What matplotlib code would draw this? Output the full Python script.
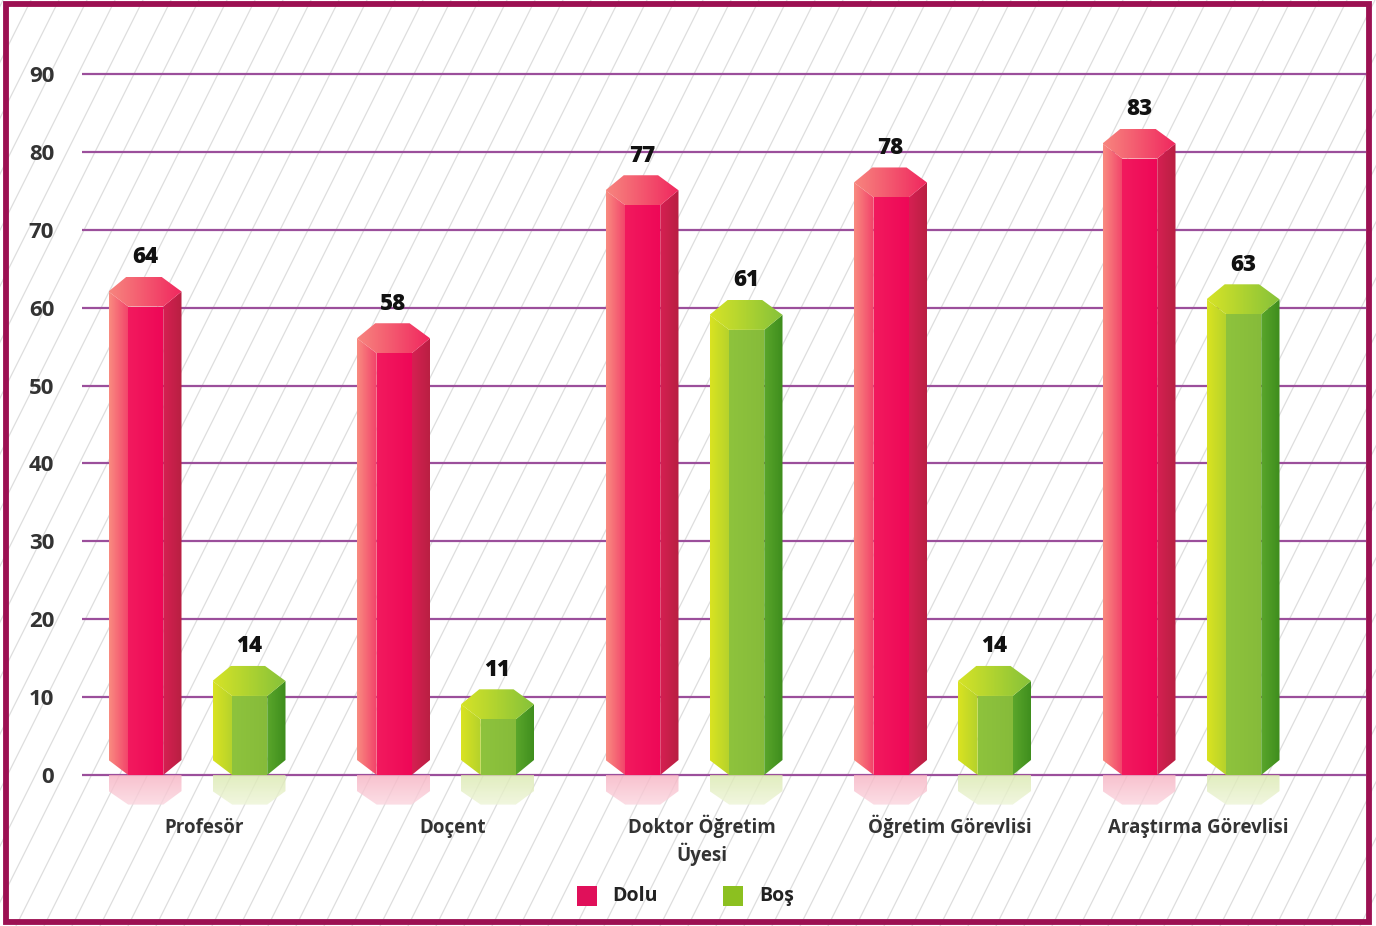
import numpy as np
import matplotlib
matplotlib.use("Agg")
import matplotlib.pyplot as plt
from matplotlib.patches import Polygon, Rectangle
from matplotlib.lines import Line2D
from matplotlib.colors import LinearSegmentedColormap

# ---------------- data ----------------
categories = ["Profesör", "Doçent", "Doktor Öğretim\nÜyesi", "Öğretim Görevlisi", "Araştırma Görevlisi"]
dolu = [64, 58, 77, 78, 83]
bos = [14, 11, 61, 14, 63]
series_names = ["Dolu", "Boş"]
yticks = [0, 10, 20, 30, 40, 50, 60, 70, 80, 90]

FONT = ["Open Sans", "DejaVu Sans"]

W, H = 1376, 926
fig = plt.figure(figsize=(W / 100, H / 100), dpi=100)
fig.patch.set_facecolor("white")

# background diagonal hatch lines (figure pixel coords)
for x0 in np.arange(-600, W + 40, 28):
    fig.add_artist(Line2D([x0 / W, (x0 + 0.5 * H) / W], [0, 1],
                          transform=fig.transFigure, color="#dedede", lw=0.9, zorder=0))

# axes mapping
x_left_px, x_right_px = 82, 1366
g0_px, gstep_px = 197, 248.5
xlim = ((x_left_px - g0_px) / gstep_px, (x_right_px - g0_px) / gstep_px)
ppu = (775 - 74) / 90.0
ylim = (-8, 92)
top_px = 775 - ylim[1] * ppu
bot_px = 775 - ylim[0] * ppu
ax = fig.add_axes([x_left_px / W, 1 - bot_px / H, (x_right_px - x_left_px) / W, (bot_px - top_px) / H])
ax.set_xlim(*xlim)
ax.set_ylim(*ylim)
ax.patch.set_alpha(0)
for s in ax.spines.values():
    s.set_visible(False)
ax.set_xticks([])
ax.set_yticks(yticks)
ax.set_yticklabels([str(t) for t in yticks], fontsize=16, fontweight="bold",
                   color="#333333", family=FONT)
ax.tick_params(axis="y", length=0, pad=20)
for t in yticks:
    ax.axhline(t, color="#9b4f9b", lw=1.6, zorder=1)

palettes = {
    "Dolu": dict(left=("#f98b80", "#f2426a"), front=("#f21a5e", "#ee0757"),
                 right=("#d62052", "#b81f42"), top=("#f7857e", "#f0285f"),
                 legend="#e0105a", refl=("#f7b3c3", "#fbd6df")),
    "Boş": dict(left=("#dae321", "#b4d22c"), front=("#8ec33d", "#86bb3a"),
                right=("#5aa62b", "#3e8d1d"), top=("#d6e327", "#86c23a"),
                legend="#8cc020", refl=("#dbe9b0", "#eef5d8")),
}

bw = 73 / gstep_px
mid = 15 / ppu
dep = 30 / ppu
offs = {"Dolu": -52 / gstep_px, "Boş": 52 / gstep_px}


def grad_poly(ax, pts, c1, c2, z, alpha=1.0, vertical=False):
    pts = np.asarray(pts)
    poly = Polygon(pts, closed=True, facecolor="none", edgecolor="none", zorder=z)
    ax.add_patch(poly)
    cmap = LinearSegmentedColormap.from_list("g", [c1, c2])
    xmin, xmax = pts[:, 0].min(), pts[:, 0].max()
    ymin, ymax = pts[:, 1].min(), pts[:, 1].max()
    g = np.linspace(0, 1, 64)
    arr = g.reshape(-1, 1) if vertical else g.reshape(1, -1)
    im = ax.imshow(arr, cmap=cmap, aspect="auto", origin="upper",
                   extent=(xmin, xmax, ymin, ymax), zorder=z, alpha=alpha,
                   interpolation="bilinear")
    im.set_clip_path(poly)


def prism(ax, xc, v, pal):
    x0 = xc - bw / 2
    x1 = xc + bw / 2
    xa = x0 + 0.27 * bw
    xb = x0 + 0.75 * bw
    T = v
    # reflection below the baseline
    rd = 3.8
    refl = [(x0, 0), (x1, 0), (x1, -rd + mid * 0.9), (xb, -rd), (xa, -rd), (x0, -rd + mid * 0.9)]
    grad_poly(ax, refl, pal["refl"][0], pal["refl"][1], 2, alpha=0.8, vertical=True)
    # faces
    grad_poly(ax, [(x0, T - mid), (xa, T - dep), (xa, 0), (x0, mid)], *pal["left"], 3)
    grad_poly(ax, [(xa, T - dep), (xb, T - dep), (xb, 0), (xa, 0)], *pal["front"], 3)
    grad_poly(ax, [(xb, T - dep), (x1, T - mid), (x1, mid), (xb, 0)], *pal["right"], 3)
    grad_poly(ax, [(x0, T - mid), (x0 + 0.25 * bw, T), (x0 + 0.72 * bw, T), (x1, T - mid),
                   (xb, T - dep), (xa, T - dep)], *pal["top"], 4)
    ax.text(xc, T + 2.5, str(v), ha="center", va="center", fontsize=16,
            fontweight="heavy", color="#111111", family=FONT, zorder=5)


for i in range(len(categories)):
    prism(ax, i + offs["Dolu"], dolu[i], palettes["Dolu"])
    prism(ax, i + offs["Boş"], bos[i], palettes["Boş"])
    for k, line in enumerate(categories[i].split("\n")):
        ax.text(i + 0.03, -7.4 - k * 3.6, line, ha="center", va="baseline", fontsize=13.5,
                fontweight="bold", color="#333333", family=FONT, zorder=5,
                clip_on=False)

# legend
for name, sx, tx in [("Dolu", 577, 612), ("Boş", 723, 759)]:
    fig.add_artist(Rectangle((sx / W, 1 - 906 / H), 20 / W, 20 / H, transform=fig.transFigure,
                             facecolor=palettes[name]["legend"], edgecolor="none", zorder=5))
    fig.text(tx / W, 1 - 896 / H, name, ha="left", va="center", fontsize=14,
             fontweight="bold", color="#222222", family=FONT)

# frame
fig.add_artist(Rectangle((5.5 / W, 1 - 922 / H), (1369 - 5.5) / W, (922 - 3.5) / H,
                         transform=fig.transFigure, facecolor="none",
                         edgecolor="#9c1052", lw=4.2, zorder=10))

fig.savefig("out.png", dpi=100, facecolor="white")
